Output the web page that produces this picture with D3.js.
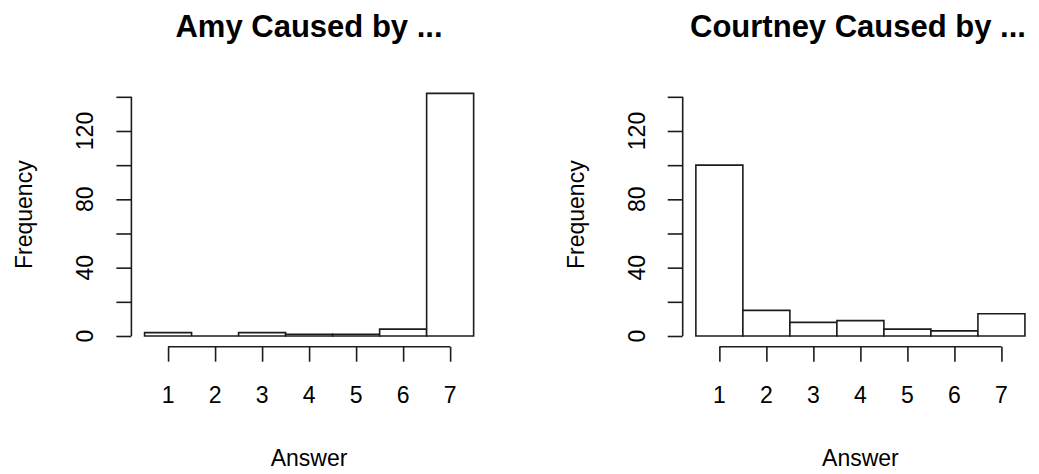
<!DOCTYPE html>
<html>
<head>
<meta charset="utf-8">
<script src="https://cdn.jsdelivr.net/npm/d3@7"></script>
<style>
  body { margin: 0; background: #fff; }
  text { font-family: "Liberation Sans", Arial, sans-serif; fill: #000; }
</style>
</head>
<body>
<script>
var width = 1039
var height = 474

// histogram counts for answers 1..7
var answers = [1, 2, 3, 4, 5, 6, 7]
var amyCounts = [2, 0, 2, 1, 1, 4, 142]
var courtneyCounts = [100, 15, 8, 9, 4, 3, 13]
var titles = ['Amy Caused by ...', 'Courtney Caused by ...']
var yTicks = [0, 20, 40, 60, 80, 100, 120, 140]
var yLabels = [0, 40, 80, 120]

var panels = [
  { title: titles[0], counts: amyCounts, left: 131.4, titleX: 309 },
  { title: titles[1], counts: courtneyCounts, left: 682.7, titleX: 858 }
]
var plotW = 355.4
var plotTop = 83.7
var plotBottom = 345.7
var ink = '#1c1c1c'

var svg = d3
  .select('body')
  .append('svg')
  .attr('xmlns', 'http://www.w3.org/2000/svg')
  .attr('width', width)
  .attr('height', height)

var y = d3.scaleLinear().domain([-5.68, 147.68]).range([plotBottom, plotTop])

panels.forEach(function (p) {
  var x = d3.scaleLinear().domain([0.22, 7.78]).range([p.left, p.left + plotW])
  var g = svg.append('g')

  // bars (paths so a zero count still draws its outline)
  g.selectAll('path.bar')
    .data(p.counts)
    .enter()
    .append('path')
    .attr('class', 'bar')
    .attr('d', (d, i) => {
      var x0 = x(answers[i] - 0.5)
      var x1 = x(answers[i] + 0.5)
      var y0 = y(0)
      var y1 = y(d)
      return 'M' + x0 + ',' + y0 + 'L' + x1 + ',' + y0 + 'L' + x1 + ',' + y1 + 'L' + x0 + ',' + y1 + 'Z'
    })
    .style('fill', '#fff')
    .style('stroke', ink)
    .style('stroke-width', 1.6)

  // y axis
  var yAxis = d3.axisLeft(y).tickValues(yTicks).tickSize(15).tickFormat('')
  var yg = g.append('g').attr('transform', 'translate(' + p.left + ',0)').call(yAxis)
  yg.select('.domain').remove()
  yg.selectAll('line').style('stroke', ink).style('stroke-width', 1.6)
  yg.append('line')
    .attr('y1', y(yTicks[0]))
    .attr('y2', y(yTicks[yTicks.length - 1]))
    .style('stroke', ink)
    .style('stroke-width', 1.6)
  yg.selectAll('text.ylab')
    .data(yLabels)
    .enter()
    .append('text')
    .attr('class', 'ylab')
    .attr('transform', (d) => 'translate(-38,' + y(d) + ') rotate(-90)')
    .attr('text-anchor', 'middle')
    .style('font-size', '23px')
    .text((d) => d)

  // x axis
  var axisY = plotBottom + 1
  var xAxis = d3.axisBottom(x).tickValues(answers).tickSize(15).tickFormat('')
  var xg = g.append('g').attr('transform', 'translate(0,' + axisY + ')').call(xAxis)
  xg.select('.domain').remove()
  xg.selectAll('line').style('stroke', ink).style('stroke-width', 1.6)
  xg.append('line')
    .attr('x1', x(answers[0]))
    .attr('x2', x(answers[answers.length - 1]))
    .style('stroke', ink)
    .style('stroke-width', 1.6)
  xg.selectAll('text.xlab')
    .data(answers)
    .enter()
    .append('text')
    .attr('class', 'xlab')
    .attr('x', (d) => x(d))
    .attr('y', 403 - axisY)
    .attr('text-anchor', 'middle')
    .style('font-size', '23px')
    .text((d) => d)

  // titles and axis labels
  g.append('text')
    .attr('x', p.titleX)
    .attr('y', 37)
    .attr('text-anchor', 'middle')
    .style('font-size', '31px')
    .style('font-weight', 'bold')
    .text(p.title)

  g.append('text')
    .attr('x', p.left + plotW / 2)
    .attr('y', 466)
    .attr('text-anchor', 'middle')
    .style('font-size', '23px')
    .text('Answer')

  g.append('text')
    .attr('transform', 'translate(' + (p.left - 99) + ',' + (plotTop + plotBottom) / 2 + ') rotate(-90)')
    .attr('text-anchor', 'middle')
    .style('font-size', '23px')
    .text('Frequency')
})
</script>
</body>
</html>
